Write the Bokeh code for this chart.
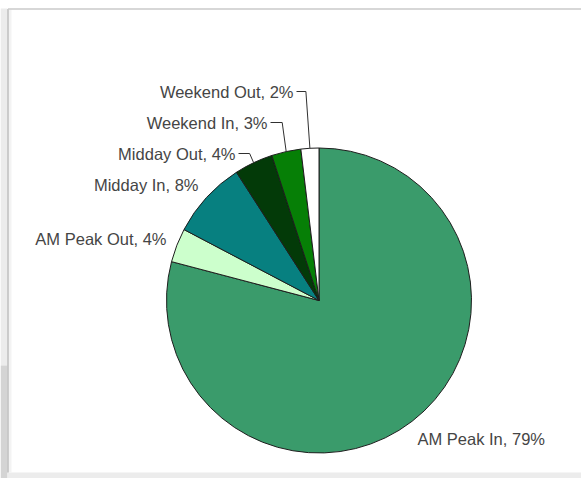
import math
from bokeh.plotting import figure
from bokeh.models import Range1d, ColumnDataSource
from bokeh.core.properties import value
from bokeh.embed import file_html
from bokeh.resources import INLINE

# ---- data ----
categories = ["AM Peak In", "AM Peak Out", "Midday In", "Midday Out", "Weekend In", "Weekend Out"]
shares = [79.1, 3.6, 8.2, 4.1, 3.1, 1.9]
pct_text = ["79%", "4%", "8%", "4%", "3%", "2%"]
colors = ["#3a9b6b", "#ccffcc", "#078080", "#033a08", "#067f06", "#ffffff"]

# ---- layout (page pixels) ----
W, H = 581, 478
CX, CY = 318.5, 300.0          # pie centre on page
R = 152.5                      # pie radius in px
# label anchors: (x, y, align) in page px
label_pos = [(417, 438, "left"), (166, 238, "right"), (198, 184, "right"),
             (235, 153, "right"), (267, 122, "right"), (293, 91, "right")]
has_leader = [False, False, False, True, True, True]

def dx(px):
    return px - CX

def dy(py):
    return CY - py

p = figure(width=W, height=H, output_backend="svg", toolbar_location=None,
           x_range=Range1d(dx(0), dx(W)), y_range=Range1d(dy(H), dy(0)),
           x_axis_location=None, y_axis_location=None, min_border=0)
p.grid.visible = False
p.outline_line_color = None
p.background_fill_color = "white"
p.border_fill_color = "white"

# panel frame / shadow decoration
p.quad(left=dx(0), right=dx(7), top=dy(8), bottom=dy(365), fill_color="#ececec", line_color=None)
p.quad(left=dx(0), right=dx(7), top=dy(365), bottom=dy(H), fill_color="#d4d4d4", line_color=None)
p.quad(left=dx(7), right=dx(W), top=dy(472), bottom=dy(H), fill_color="#ececec", line_color=None)
p.quad(left=dx(8), right=dx(11), top=dy(9), bottom=dy(472), fill_color="#f3f3f3", line_color=None)
p.multi_line(xs=[[dx(7.5), dx(7.5)], [dx(7.5), dx(W)]], ys=[[dy(472), dy(8.5)], [dy(8.5), dy(8.5)]],
             line_color=["#bcbcbc", "#cacaca"], line_width=1.5)

total = sum(shares)
starts, ends, mids = [], [], []
cum = 0.0
for s in shares:
    a0 = 2 * math.pi * cum / total
    cum += s
    a1 = 2 * math.pi * cum / total
    starts.append(math.pi / 2 - a0)
    ends.append(math.pi / 2 - a1)
    mids.append((a0 + a1) / 2)

src = ColumnDataSource(dict(start=starts, end=ends, color=colors, cat=categories))
p.wedge(x=0, y=0, radius=R, start_angle="start", end_angle="end", direction="clock",
        fill_color="color", line_color="#1e1e1e", line_width=1, source=src)

labels = [f"{c}, {t}" for c, t in zip(categories, pct_text)]
lsrc = ColumnDataSource(dict(x=[dx(a[0]) for a in label_pos], y=[dy(a[1]) for a in label_pos],
                             text=labels, align=[a[2] for a in label_pos]))
p.text(x="x", y="y", text="text", text_align="align", text_baseline="middle",
       text_font=value("Liberation Sans"), text_font_size="16.5px", text_color="#454545",
       source=lsrc)

xs, ys = [], []
for i, lead in enumerate(has_leader):
    if not lead:
        continue
    ex = R * math.sin(mids[i])
    ey = R * math.cos(mids[i])
    tx, ty, _ = label_pos[i]
    xs.append([dx(tx + 3), ex - 4, ex])
    ys.append([dy(ty), dy(ty), ey])
p.multi_line(xs=xs, ys=ys, line_color="#303030", line_width=1)

open("out.html", "w").write(file_html(p, INLINE))
